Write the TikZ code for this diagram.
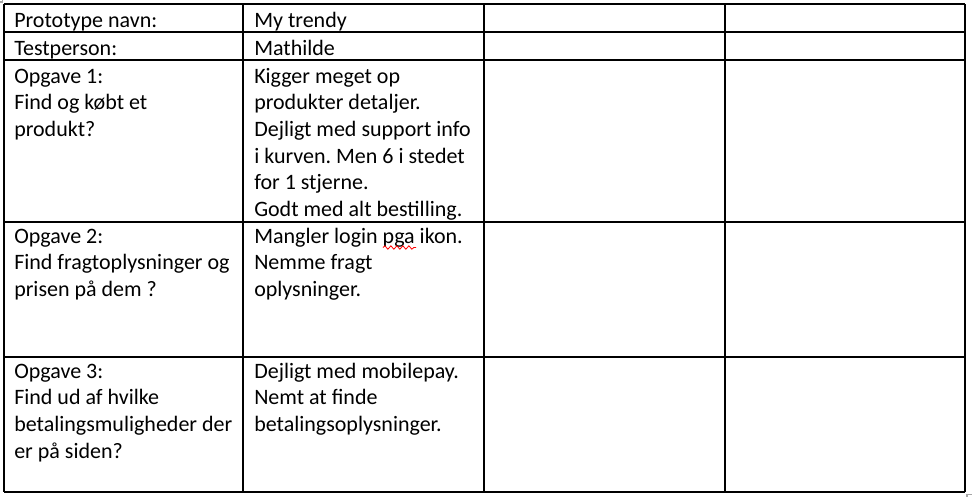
\documentclass[tikz,border=0pt]{standalone}
\usepackage{fontspec}
\setmainfont{Carlito}
\usetikzlibrary{decorations.pathmorphing}
\frenchspacing
\newcommand{\cellfont}{\fontsize{16.5pt}{20pt}\selectfont}
\newcommand{\celltxt}[1]{\strut #1}
\tikzset{cell/.style={font=\cellfont,align=left,inner sep=0pt,anchor=north west},
         grid/.style={draw=black,line width=0.8pt},
         handle/.style={draw=black!35,line width=0.8pt}}

\begin{document}
\begin{tikzpicture}[x=0.75pt,y=-0.75pt]
 \useasboundingbox (0,0) rectangle (972,497);

 % table lines
 \foreach \xx in {4,243,484,725,965}
   \draw[grid] (\xx,4) -- (\xx,492);
 \foreach \yy in {4,32,60,222,357,492}
   \draw[grid] (4,\yy) -- (965,\yy);

 % table handles
 \draw[handle] (0,2) -- (2.5,2) -- (2.5,0);
 \draw[handle] (972,494.5) -- (967,494.5) -- (967,497);

 % first column
 \draw (14,8.3) node[cell] (navn) {\celltxt{Prototype navn:}};
 \draw (14,36.3) node[cell] (person) {\celltxt{Testperson:}};
 \draw (14,64.3) node[cell] (opg1)
              {\celltxt{Opgave 1:}\\
               Find og købt et\\
               produkt?};
 \draw (14,224.3) node[cell] (opg2)
              {\celltxt{Opgave 2:}\\
               Find fragtoplysninger og\\
               prisen på dem ?};
 \draw (14,359.3) node[cell] (opg3)
              {\celltxt{Opgave 3:}\\
               Find ud af hvilke\\
               betalingsmuligheder der\\
               er på siden?};

 % second column
 \draw (254,8.3) node[cell] (trendy) {\celltxt{My trendy}};
 \draw (254,36.3) node[cell] (mathilde) {\celltxt{Mathilde}};
 \draw (254,64.3) node[cell] (svar1)
              {\celltxt{Kigger meget op}\\
               produkter detaljer.\\
               Dejligt med support info\\
               i kurven. Men 6 i stedet\\
               for 1 stjerne.\\
               Godt med alt bestilling.};
 \draw (254,224.3) node[cell] (svar2)
              {\celltxt{Mangler login pga ikon.}\\
               Nemme fragt\\
               oplysninger.};
 \draw (254,359.3) node[cell] (svar3)
              {\celltxt{Dejligt med mobilepay.}\\
               Nemt at finde\\
               betalingsoplysninger.};

 % spell check mark
 \draw[red,line width=0.6pt,decorate,decoration={snake,segment length=4.5,amplitude=1.3}]
   (383,247.5) -- (416,247.5);
\end{tikzpicture}
\end{document}
